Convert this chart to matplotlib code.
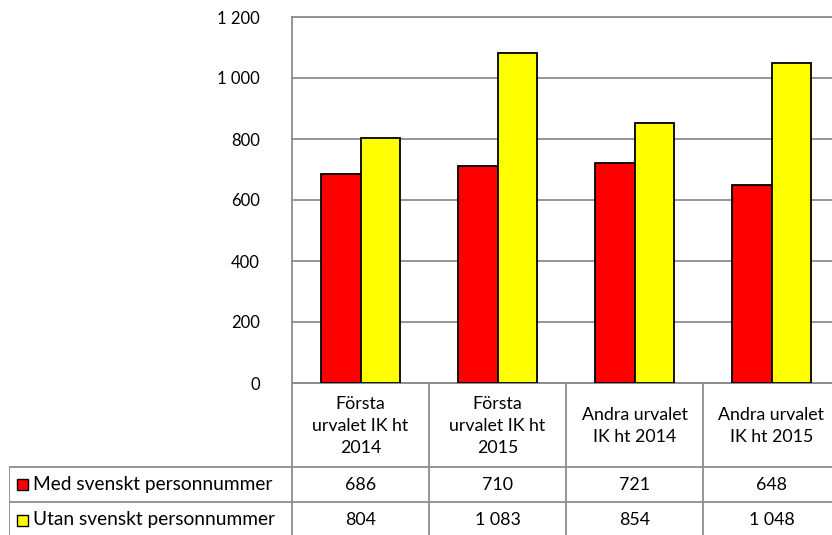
import numpy as np
import matplotlib.pyplot as plt
from matplotlib.patches import Rectangle

plt.rcParams['font.family'] = ['Lato', 'DejaVu Sans']

categories = ['Första\nurvalet IK ht\n2014', 'Första\nurvalet IK ht\n2015',
              'Andra urvalet\nIK ht 2014', 'Andra urvalet\nIK ht 2015']
series_names = ['Med svenskt personnummer', 'Utan svenskt personnummer']
med = [686, 710, 721, 648]
utan = [804, 1083, 854, 1048]
colors = ['#FF0000', '#FFFF00']
yticks = [0, 200, 400, 600, 800, 1000, 1200]

W, H = 832, 535
fig = plt.figure(figsize=(W / 100, H / 100), dpi=100)

# plot area in pixels (right side runs past the picture edge)
left, right, top, bottom = 292, 840, 17, 383
ax = fig.add_axes([left / W, 1 - bottom / H, (right - left) / W, (bottom - top) / H])

x = np.arange(len(categories))
bw = 0.29
grid_c = '#8C8C8C'
ax.bar(x - bw / 2, med, bw, color=colors[0], edgecolor='black', linewidth=1.3, zorder=3)
ax.bar(x + bw / 2, utan, bw, color=colors[1], edgecolor='black', linewidth=1.3, zorder=3)
ax.set_xlim(-0.5, len(categories) - 0.5)
ax.set_ylim(0, 1200)
ax.set_yticks(yticks)
ax.set_yticklabels([f'{v:,}'.replace(',', ' ') for v in yticks], fontsize=12)
ax.tick_params(axis='y', length=0, pad=23)
ax.set_xticks([])
ax.yaxis.grid(True, color=grid_c, linewidth=1.3, zorder=0)
for s in ax.spines.values():
    s.set_color(grid_c)
    s.set_linewidth(1.3)

# data table below the plot
tleft, tbottom = 9, 538
tab = fig.add_axes([tleft / W, 1 - tbottom / H, (right - tleft) / W, (tbottom - bottom) / H])
tab.set_xlim(tleft, right)
tab.set_ylim(tbottom, bottom)
tab.axis('off')
colw = (right - left) / len(categories)
rows = [bottom, 467, 502, tbottom]
lw = 1.3
# horizontal lines
tab.plot([left, right], [rows[0], rows[0]], color=grid_c, lw=lw)
for yy in rows[1:3]:
    tab.plot([tleft, right], [yy, yy], color=grid_c, lw=lw)
# vertical lines
tab.plot([tleft, tleft], [rows[1], tbottom], color=grid_c, lw=lw)
for i in range(len(categories) + 1):
    xx = left + i * colw
    tab.plot([xx, xx], [rows[0], tbottom], color=grid_c, lw=lw)

fs = 12.8
for i, cat in enumerate(categories):
    cx = left + (i + 0.5) * colw
    tab.text(cx, (rows[0] + rows[1]) / 2 + 1, cat, ha='center', va='center',
             fontsize=fs, linespacing=1.45)
    for r, vals in enumerate([med, utan]):
        cy = (rows[r + 1] + rows[r + 2]) / 2
        tab.text(cx, cy, f'{vals[i]:,}'.replace(',', ' '), ha='center', va='center', fontsize=fs)

for r, name in enumerate(series_names):
    cy = (rows[r + 1] + rows[r + 2]) / 2
    tab.add_patch(Rectangle((17, cy - 5.5), 11, 11, facecolor=colors[r], edgecolor='black', lw=1))
    tab.text(33, cy, name, ha='left', va='center', fontsize=13.8)

fig.savefig('out.png', dpi=100)
